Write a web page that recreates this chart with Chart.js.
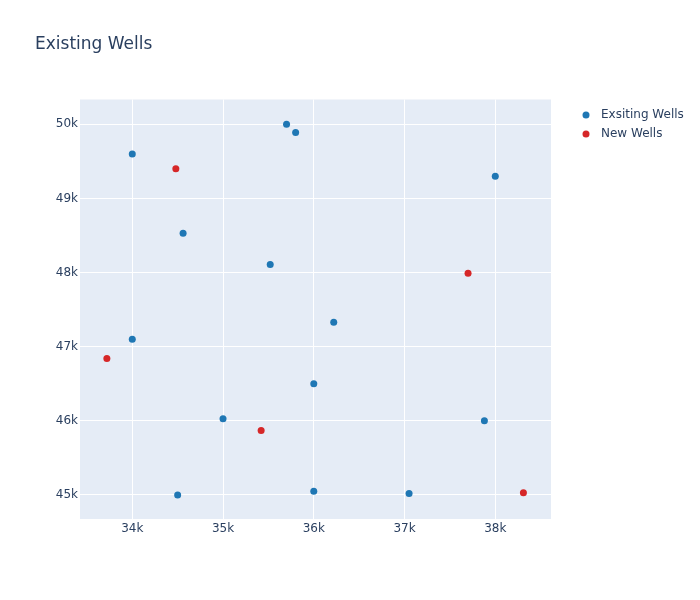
<!DOCTYPE html>
<html>
<head>
<meta charset="utf-8">
<script src="https://cdn.jsdelivr.net/npm/chart.js@4/dist/chart.umd.min.js"></script>
<style>
  body { margin: 0; background: #fff; }
  #wrap { width: 700px; height: 600px; }
</style>
</head>
<body>
<div id="wrap"><canvas id="wells" width="700" height="600"></canvas></div>
<script>
// data
const existingX = [34000, 34560, 35700, 35800, 38000, 35520, 36220, 34000, 36000, 35000, 37880, 34500, 36000, 37050];
const existingY = [49600, 48530, 50000, 49890, 49300, 48110, 47330, 47100, 46500, 46030, 46000, 45000, 45050, 45020];
const newX = [34480, 33720, 35420, 37700, 38310];
const newY = [49400, 46840, 45870, 47990, 45030];
const xTicks = [34000, 35000, 36000, 37000, 38000];
const yTicks = [45000, 46000, 47000, 48000, 49000, 50000];

const ink = '#2a3f5f';
const font = '"DejaVu Sans", Verdana, sans-serif';

function toPoints(xs, ys) {
  return xs.map((x, i) => ({ x: x, y: ys[i] }));
}

// plot background + title + legend (plotly look)
const plotlyBits = {
  id: 'plotlyBits',
  beforeDraw(chart) {
    const { ctx, chartArea: a } = chart;
    ctx.save();
    ctx.fillStyle = '#e5ecf6';
    ctx.fillRect(a.left, a.top, a.right - a.left, a.bottom - a.top);
    ctx.restore();
  },
  afterDraw(chart) {
    const ctx = chart.ctx;
    ctx.save();
    ctx.fillStyle = ink;
    ctx.font = '17px ' + font;
    ctx.textBaseline = 'middle';
    ctx.fillText('Existing Wells', 35, 45);

    ctx.font = '12px ' + font;
    chart.data.datasets.forEach((ds, i) => {
      const y = 115 + i * 19;
      ctx.fillStyle = ds.backgroundColor;
      ctx.beginPath();
      ctx.arc(586, y, 3.5, 0, Math.PI * 2);
      ctx.fill();
      ctx.fillStyle = ink;
      ctx.fillText(ds.label, 601, y);
    });
    ctx.restore();
  }
};

function keepTicks(list) {
  return scale => { scale.ticks = list.map(v => ({ value: v })); };
}

new Chart(document.getElementById('wells'), {
  type: 'scatter',
  data: {
    datasets: [
      {
        label: 'Exsiting Wells',
        data: toPoints(existingX, existingY),
        backgroundColor: '#1f77b4',
        borderWidth: 0,
        pointRadius: 3.5,
        pointHoverRadius: 3.5
      },
      {
        label: 'New Wells',
        data: toPoints(newX, newY),
        backgroundColor: '#d62728',
        borderWidth: 0,
        pointRadius: 3.5,
        pointHoverRadius: 3.5
      }
    ]
  },
  options: {
    responsive: false,
    animation: false,
    devicePixelRatio: 1,
    layout: { padding: { left: 0, top: 99.5, right: 149, bottom: 51 } },
    plugins: {
      legend: { display: false },
      title: { display: false },
      tooltip: { enabled: false }
    },
    scales: {
      x: {
        type: 'linear',
        min: 33424,
        max: 38614,
        afterBuildTicks: keepTicks(xTicks),
        afterFit: s => { s.height = 30; },
        border: { display: false },
        grid: { color: '#ffffff', lineWidth: 1, drawTicks: false },
        ticks: {
          color: ink,
          font: { family: font, size: 12 },
          padding: 3,
          maxRotation: 0,
          callback: v => (v / 1000) + 'k'
        }
      },
      y: {
        type: 'linear',
        min: 44676,
        max: 50335,
        afterBuildTicks: keepTicks(yTicks),
        afterFit: s => { s.width = 80; },
        border: { display: false },
        grid: { color: '#ffffff', lineWidth: 1, drawTicks: false },
        ticks: {
          color: ink,
          font: { family: font, size: 12 },
          padding: 2,
          callback: v => (v / 1000) + 'k'
        }
      }
    }
  },
  plugins: [plotlyBits]
});
</script>
</body>
</html>
